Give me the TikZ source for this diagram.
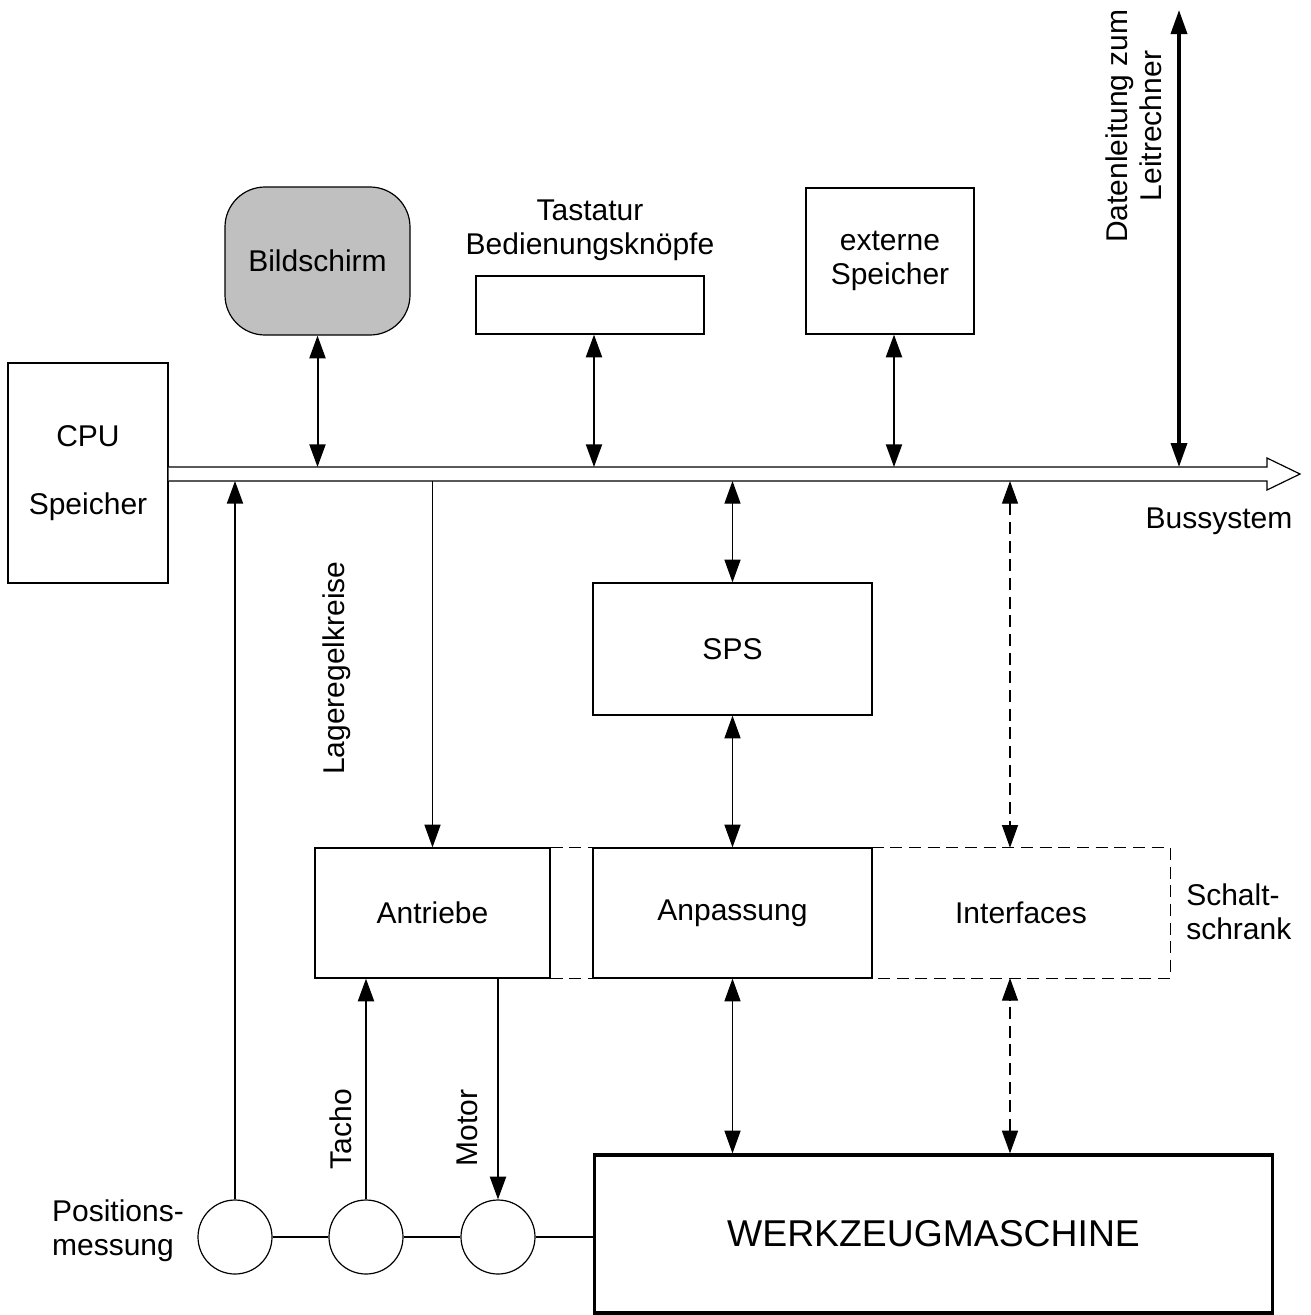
\documentclass[tikz,border=0pt]{standalone}
\usepackage{fontspec}
\setmainfont{Liberation Sans}
\usetikzlibrary{arrows.meta}
\definecolor{screengray}{RGB}{192,192,192}

\begin{document}
\begin{tikzpicture}[x=0.75pt,y=-0.75pt,
  every node/.style={font=\fontsize{22.5pt}{25.5pt}\selectfont, inner sep=0pt},
  box/.style={draw, line width=0.9pt, align=center},
  link/.style={line width=1.5pt},
  thinlink/.style={line width=1pt},
  tip/.style={-{Triangle[length=17pt,width=12pt]}},
  tips/.style={{Triangle[length=17pt,width=12pt]}-{Triangle[length=17pt,width=12pt]}},
  dashedlink/.style={dash pattern=on 9pt off 5pt},
  joint/.style={circle, draw, line width=0.9pt, minimum size=55.5pt},
]
\useasboundingbox (0,0) rectangle (1311,1315);

% bus rails
\coordinate (bt) at (0,467);
\coordinate (bb) at (0,481);

% blocks
\node[box, minimum width=120pt, minimum height=165pt] (cpu) at (88,473) {CPU\\[26pt]Speicher};
\node[box, fill=screengray, rounded corners=30pt, minimum width=138.75pt, minimum height=111pt] (bild) at (317.5,261) {Bildschirm};
\node[box, minimum width=171pt, minimum height=43.5pt] (tast) at (590,305) {};
\node[align=center] (tasttxt) at (590,230) {Tastatur\\Bedienungsknöpfe};
\node[box, minimum width=126pt, minimum height=109.5pt] (ext) at (890,261) {externe\\Speicher};
\node[box, minimum width=209.25pt, minimum height=99pt] (sps) at (732.5,649) {SPS};
\node[box, minimum width=176.25pt, minimum height=97.5pt] (antr) at (432.5,913) {Antriebe};
\node[box, minimum width=209.25pt, minimum height=97.5pt] (anp) at (732.5,913) {Anpassung};
\node[minimum width=223.5pt, minimum height=97.5pt] (intf) at (1021,913) {Interfaces};
\node[draw, line width=2.4pt, minimum width=508.5pt, minimum height=118.5pt,
      font=\fontsize{28pt}{32pt}\selectfont] (wz) at (933.5,1234) {WERKZEUGMASCHINE};

% measuring system, tacho generator and motor on the axis
\node[joint] (p1) at (235,1237) {};
\node[joint] (p2) at (366,1237) {};
\node[joint] (p3) at (498,1237) {};

% switch cabinet outline (dashed parts)
\draw[line width=0.9pt, dashedlink] (intf.north west) -- (intf.north east) -- (intf.south east) -- (intf.south west);
\draw[line width=0.9pt, dashedlink] (antr.north east) -- (anp.north west);
\draw[line width=0.9pt, dashedlink] (antr.south east) -- (anp.south west);

% bus system
\draw[line width=0.9pt, fill=white] (cpu.east |- bt) -- (1267,467) -- (1267,458) -- (1300,474)
  -- (1267,490) -- (1267,481) -- (cpu.east |- bb);

% connections to the bus
\draw[link, tips] (bild.south) -- (bild.south |- bt);
\draw[link, tips] (tast.south -| 594,0) -- (594,467);
\draw[link, tips] (ext.south -| 894,0) -- (894,467);
\draw[line width=2.6pt, {Triangle[length=18pt,width=12pt]}-{Triangle[length=18pt,width=12pt]}] (1179,467) -- (1179,10);
\draw[link, tip] (p1.north) -- (p1.north |- bb);
\draw[thinlink, tip] (antr.north |- bb) -- (antr.north);
\draw[thinlink, tips] (sps.north |- bb) -- (sps.north);
\draw[thinlink, tips] (sps.south) -- (anp.north);
\coordinate (ia) at (1010,481);
\draw[thinlink, dashedlink, tips] (ia) -- (ia |- intf.north);
\coordinate (ib) at (1010,978);
\draw[thinlink, dashedlink, tips] (ib |- wz.north) -- (ib);
\draw[thinlink, tips] (anp.south) -- (anp.south |- wz.north);

% drive loop
\draw[link, tip] (p2.north) -- (p2.north |- antr.south);
\draw[link, tip] (antr.south -| p3.north) -- (p3.north);
\draw[link] (p1.east) -- (p2.west);
\draw[link] (p2.east) -- (p3.west);
\draw[link] (p3.east) -- (p3.east -| wz.west);

% labels
\node (bus) at (1219,521) {Bussystem};
\node[rotate=90, align=center] (dl) at (1134,126) {Datenleitung zum\\Leitrechner};
\node[rotate=90] (lrk) at (337,668) {Lageregelkreise};
\node[rotate=90] (tacho) at (341,1129) {Tacho};
\node[rotate=90] (motor) at (467,1128) {Motor};
\node[align=left, anchor=west] (ss) at (1186,912) {Schalt-\\schrank};
\node[align=left] (pm) at (118,1231) {Positions-\\messung};
\end{tikzpicture}
\end{document}
